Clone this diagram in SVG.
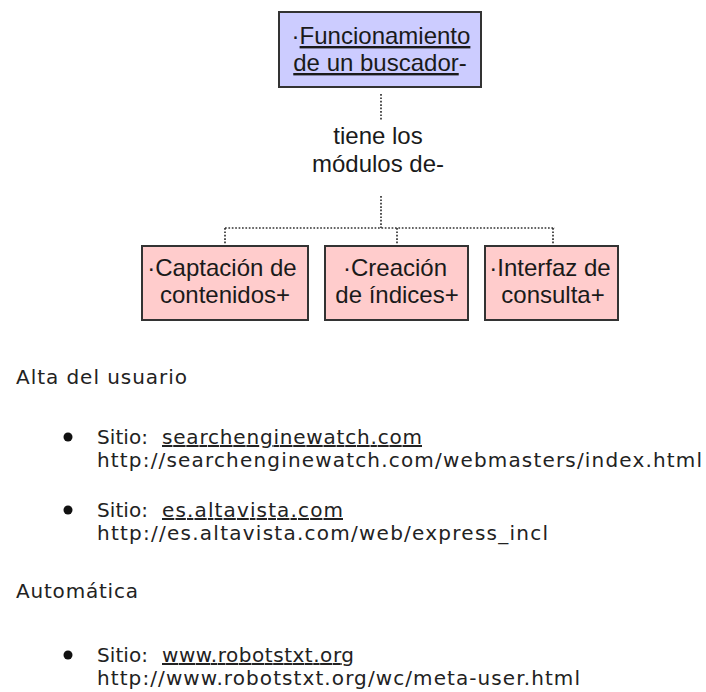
<svg xmlns="http://www.w3.org/2000/svg" width="706" height="692" viewBox="0 0 706 692">
<style>
.bg{fill:#ffffff}
.top{fill:#ccccff;stroke:#333333;stroke-width:2}
.mod{fill:#ffcccc;stroke:#333333;stroke-width:2}
.nt{font-family:"Liberation Sans",Arial,sans-serif;font-size:24px;fill:#1a1a1a;text-anchor:middle}
.u{text-decoration:underline}
.dot{fill:none;stroke:#333333;stroke-width:1.7;stroke-dasharray:1.7 1.7}
.lt{font-family:"DejaVu Sans",Verdana,sans-serif;font-size:20px;fill:#222222}
.bul{fill:#111111}
</style>
<rect class="bg" x="0" y="0" width="706" height="692"/>
<g id="connectors">
<line class="dot" x1="381" y1="94" x2="381" y2="121"/>
<line class="dot" x1="381" y1="196" x2="381" y2="228"/>
<line class="dot" x1="225" y1="228" x2="555" y2="228"/>
<line class="dot" x1="225" y1="228" x2="225" y2="245"/>
<line class="dot" x1="397" y1="228" x2="397" y2="245"/>
<line class="dot" x1="553" y1="228" x2="553" y2="245"/>
</g>
<g id="node-funcionamiento">
<rect class="top" x="279" y="12" width="202" height="75"/>
<text class="nt" x="381" y="44">·<tspan class="u">Funcionamiento</tspan></text>
<text class="nt" x="380" y="71"><tspan class="u">de un buscador</tspan>-</text>
</g>
<g id="label-tiene">
<text class="nt" x="378" y="144">tiene los</text>
<text class="nt" x="378" y="172">módulos de-</text>
</g>
<g id="node-captacion">
<rect class="mod" x="142" y="246" width="166" height="74"/>
<text class="nt" x="222" y="276">·Captación de</text>
<text class="nt" x="225" y="303">contenidos+</text>
</g>
<g id="node-creacion">
<rect class="mod" x="325" y="246" width="143" height="74"/>
<text class="nt" x="395" y="276">·Creación</text>
<text class="nt" x="397" y="303">de índices+</text>
</g>
<g id="node-interfaz">
<rect class="mod" x="485" y="246" width="133" height="74"/>
<text class="nt" x="550" y="276">·Interfaz de</text>
<text class="nt" x="553" y="303">consulta+</text>
</g>
<g id="list">
<text class="lt" x="16" y="384" textLength="171" lengthAdjust="spacing">Alta del usuario</text>
<circle class="bul" cx="68" cy="437" r="4.5"/>
<text class="lt" x="97" y="444" textLength="51" lengthAdjust="spacing">Sitio:</text>
<text class="lt u" x="162" y="444" textLength="260" lengthAdjust="spacing">searchenginewatch.com</text>
<text class="lt" x="97" y="467" textLength="605" lengthAdjust="spacing">http://searchenginewatch.com/webmasters/index.html</text>
<circle class="bul" cx="68" cy="510" r="4.5"/>
<text class="lt" x="97" y="517" textLength="51" lengthAdjust="spacing">Sitio:</text>
<text class="lt u" x="162" y="517" textLength="181" lengthAdjust="spacing">es.altavista.com</text>
<text class="lt" x="97" y="540" textLength="451" lengthAdjust="spacing">http://es.altavista.com/web/express_incl</text>
<text class="lt" x="16" y="598" textLength="122" lengthAdjust="spacing">Automática</text>
<circle class="bul" cx="68" cy="655" r="4.5"/>
<text class="lt" x="97" y="662" textLength="51" lengthAdjust="spacing">Sitio:</text>
<text class="lt u" x="162" y="662" textLength="192" lengthAdjust="spacing">www.robotstxt.org</text>
<text class="lt" x="97" y="685" textLength="483" lengthAdjust="spacing">http://www.robotstxt.org/wc/meta-user.html</text>
</g>
</svg>
